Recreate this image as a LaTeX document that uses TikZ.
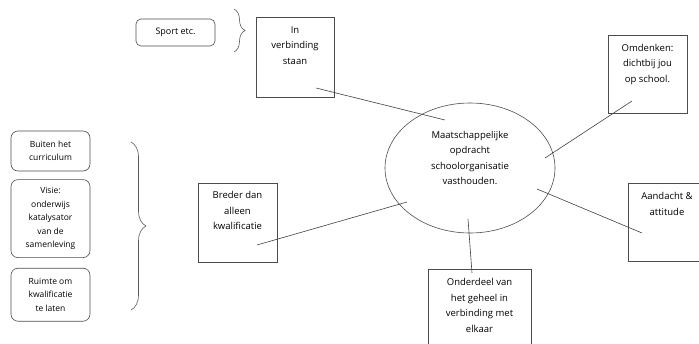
\documentclass[tikz,border=0pt]{standalone}
\usepackage{fontspec}
\setmainfont{Open Sans}
\usepackage{tikz}
\usetikzlibrary{shapes,positioning,decorations.pathreplacing}

\begin{document}
\begin{tikzpicture}[x=1pt,y=-1pt]
		\tikzstyle{box}=[draw=black!70, line width=0.6pt, inner sep=0pt]
		\tikzstyle{side_box}=[box, rounded corners=7pt, minimum width=79pt]
		\tikzstyle{box_text}=[draw=none, fill=none, inner sep=0pt, align=center, text=black, font=\fontsize{9.5}{15.5}\selectfont]
		\tikzstyle{side_text}=[box_text, font=\fontsize{8.5}{13.4}\selectfont]
		\tikzstyle{spoke}=[draw=black!75, line width=0.6pt]
		\tikzstyle{curly}=[draw=black!65, line width=0.6pt, decorate, decoration={brace, amplitude=#1}]

		\clip (0,0) rectangle (699,343);

		% centre
		\node [box, ellipse, minimum width=170pt, minimum height=130pt] (centre) at (470,168) {};
		\node [box_text] at ([yshift=10pt]centre.center) {Maatschappelijke\\opdracht\\schoolorganisatie\\vasthouden.};

		% square boxes round the centre
		\node [box, minimum width=78pt, minimum height=80pt] (verbinding) at (295,57) {};
		\node [box_text, below=9.5pt] at (verbinding.north) {In\\verbinding\\staan};

		\node [box, minimum width=79pt, minimum height=78pt] (omdenken) at (647.5,74) {};
		\node [box_text, below=9pt] at (omdenken.north) {Omdenken:\\dichtbij jou\\op school.};

		\node [box, minimum width=79pt, minimum height=79pt] (breder) at (237.5,222.5) {};
		\node [box_text, below=8.8pt] at (breder.north) {Breder dan\\alleen\\kwalificatie};

		\node [box, minimum width=103pt, minimum height=90pt] (onderdeel) at (479.5,314) {};
		\node [box_text, below=9.5pt] at (onderdeel.north) {Onderdeel van\\het geheel in\\verbinding met\\elkaar};

		\node [box, minimum width=78pt, minimum height=78pt] (aandacht) at (667,222) {};
		\node [box_text, below=9.5pt] at (aandacht.north) {Aandacht \&\\attitude};

		% spokes
		\coordinate (verbinding_end) at (316,88);
		\coordinate (centre_nw) at (445,120);
		\coordinate (omdenken_end) at (632,101);
		\coordinate (centre_ne) at (545,158);
		\coordinate (breder_end) at (257,245);
		\coordinate (centre_w) at (407,202);
		\coordinate (centre_s) at (468,219);
		\coordinate (onderdeel_end) at (472,273);
		\coordinate (centre_e) at (537,189);
		\coordinate (aandacht_end) at (642,233);

		\draw [spoke] (verbinding_end) -- (centre_nw);
		\draw [spoke] (omdenken_end) -- (centre_ne);
		\draw [spoke] (breder_end) -- (centre_w);
		\draw [spoke] (centre_s) -- (onderdeel_end);
		\draw [spoke] (centre_e) -- (aandacht_end);

		% sport
		\node [box, rounded corners=5pt, minimum width=79pt, minimum height=27pt, text=black, font=\fontsize{9}{12}\selectfont] (sport) at (175.5,32.5) {Sport etc.};
		\coordinate (sport_top) at (234,9);
		\coordinate (sport_bottom) at (234,52);
		\draw [curly=11pt] (sport_top) -- (sport_bottom);

		% left column
		\node [side_box, minimum height=40pt] (buiten) at (50.5,151) {};
		\node [side_text] at (buiten.center) {Buiten het\\curriculum};
		\node [side_box, minimum height=78pt, below=8pt of buiten] (visie) {};
		\node [side_text] at (visie.center) {Visie:\\onderwijs\\katalysator\\van de\\samenleving};
		\node [side_box, minimum height=53pt, below=10pt of visie] (ruimte) {};
		\node [side_text] at (ruimte.center) {Ruimte om\\kwalificatie\\te laten};

		\coordinate (left_top) at (131,142);
		\coordinate (left_bottom) at (131,310);
		\draw [curly=15pt] (left_top) -- (left_bottom);

	\end{tikzpicture}
\end{document}
